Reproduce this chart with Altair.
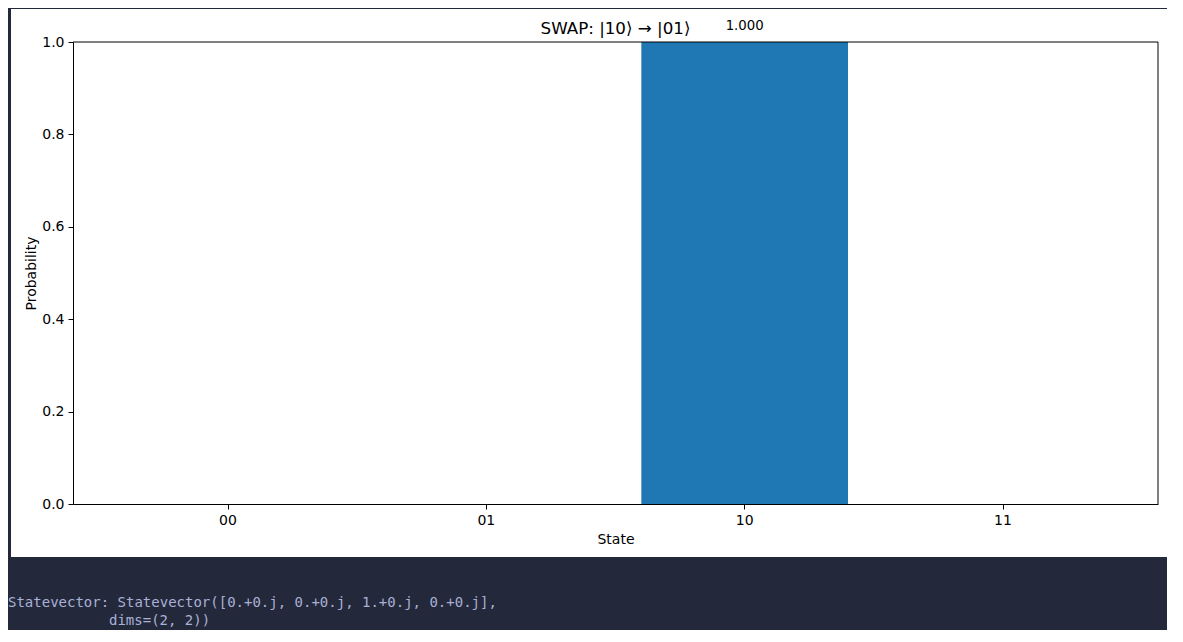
import altair as alt
import pandas as pd

# ---- data ----
states = ["00", "01", "10", "11"]
probabilities = [0.0, 0.0, 1.0, 0.0]
y_ticks = [0.0, 0.2, 0.4, 0.6, 0.8, 1.0]
title_text = "SWAP: |10⟩ → |01⟩"
statevector_line1 = "Statevector: Statevector([0.+0.j, 0.+0.j, 1.+0.j, 0.+0.j],"
statevector_line2 = "dims=(2, 2))"

df = pd.DataFrame({"State": states, "Probability": probabilities})
df["label"] = [f"{v:.3f}" for v in probabilities]
one = pd.DataFrame({"k": [0]})

W, H = 1085, 462
FONT = "DejaVu Sans"
BG = "#24283b"
BAR = "#1f77b4"

x_enc = alt.X(
    "State:N",
    sort=states,
    scale=alt.Scale(paddingInner=0.2, paddingOuter=0.2),
    axis=alt.Axis(title="State", labelAngle=0, titlePadding=5, zindex=1),
)
y_enc = alt.Y(
    "Probability:Q",
    scale=alt.Scale(domain=[0, 1], nice=False, zero=True),
    axis=alt.Axis(title="Probability", values=y_ticks, format=".1f",
                  titlePadding=3, zindex=1),
)

panel = alt.Chart(one).mark_rect(color="white").encode(
    x=alt.value(-62), x2=alt.value(W + 9), y=alt.value(-33), y2=alt.value(H + 53)
)

bars = alt.Chart(df).mark_bar(color=BAR).encode(x=x_enc, y=y_enc)

labels = (
    alt.Chart(df)
    .transform_filter("datum.Probability > 0")
    .mark_text(dy=-12, fontSize=13.3, font=FONT, color="black", baseline="alphabetic")
    .encode(x=alt.X("State:N", sort=states), y=alt.Y("Probability:Q"), text="label:N")
)

title_mark = alt.Chart(one).mark_text(
    fontSize=16.7, font=FONT, color="black", baseline="alphabetic", align="center"
).encode(x=alt.value(W / 2), y=alt.value(-8), text=alt.value(title_text))

top_rule = alt.Chart(one).mark_rule(color="black", strokeWidth=1).encode(
    x=alt.value(0), x2=alt.value(W), y=alt.value(0)
)
right_rule = alt.Chart(one).mark_rule(color="black", strokeWidth=1).encode(
    x=alt.value(W), y=alt.value(0), y2=alt.value(H)
)

sv_style = dict(align="left", baseline="alphabetic", font="DejaVu Sans Mono",
                fontSize=14, color="#a9b1d6")
sv_text1 = alt.Chart(one).mark_text(**sv_style).encode(
    x=alt.value(-65), y=alt.value(565), text=alt.value(statevector_line1)
)
sv_text2 = alt.Chart(one).mark_text(**sv_style).encode(
    x=alt.value(-65 + 101), y=alt.value(583), text=alt.value(statevector_line2)
)

chart = (
    alt.layer(panel, bars, labels, title_mark, top_rule, right_rule, sv_text1, sv_text2)
    .properties(
        width=W,
        height=H,
        autosize=alt.AutoSizeParams(type="none"),
        padding={"left": 65, "top": 34, "right": 9, "bottom": 126},
        background=BG,
    )
    .configure_axis(
        grid=False,
        domainColor="black",
        domainWidth=1,
        tickColor="black",
        tickWidth=1,
        tickSize=5,
        labelColor="black",
        titleColor="black",
        labelFont=FONT,
        titleFont=FONT,
        labelFontSize=14,
        titleFontSize=14,
        titleFontWeight="normal",
        labelPadding=4,
    )
    .configure_view(stroke="transparent")
)

chart.save("out.html", embed_options={"renderer": "svg", "actions": False})
